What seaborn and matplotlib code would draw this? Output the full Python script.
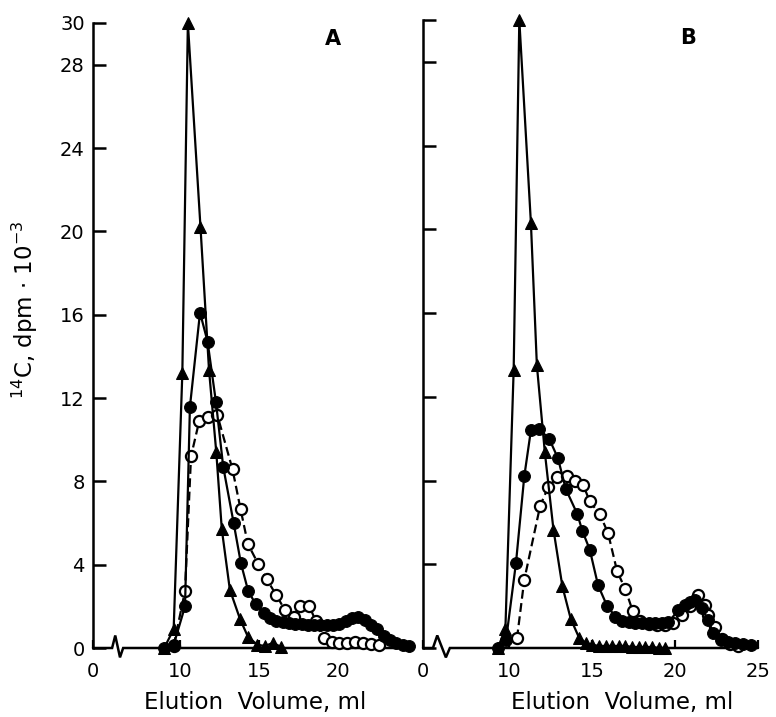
import numpy as np
import pandas as pd
import matplotlib
matplotlib.use("Agg")
import matplotlib.pyplot as plt
import seaborn as sns

# ---------------- data ----------------
# Panel A
a_tri_x = [9.0, 9.6, 10.15, 10.5, 11.3, 11.84, 12.3, 12.65, 13.16, 13.8, 14.3, 14.9, 15.4, 15.9, 16.4]
a_tri_y = [0.0, 0.9, 13.2, 30.0, 20.2, 13.35, 9.4, 5.7, 2.8, 1.4, 0.55, 0.15, 0.1, 0.25, 0.05]

a_fil_x = [9.0, 9.6, 10.32, 10.63, 11.27, 11.75, 12.28, 12.74, 13.4, 13.86, 14.32, 14.8, 15.3,
           15.7, 16.1, 16.5, 16.9, 17.3, 17.7, 18.1, 18.5, 18.9, 19.3, 19.7, 20.1, 20.5, 20.9,
           21.3, 21.7, 22.1, 22.5, 22.9, 23.3, 23.7, 24.1, 24.5]
a_fil_y = [0.0, 0.15, 2.0, 11.57, 16.1, 14.7, 11.8, 8.7, 6.0, 4.07, 2.74, 2.1, 1.7,
           1.45, 1.3, 1.25, 1.2, 1.15, 1.15, 1.1, 1.1, 1.1, 1.1, 1.1, 1.15, 1.3, 1.45,
           1.5, 1.35, 1.1, 0.9, 0.6, 0.4, 0.25, 0.15, 0.1]

a_opn_x = [9.6, 10.32, 10.7, 11.22, 11.8, 12.36, 13.33, 13.84, 14.3, 14.96, 15.5, 16.1, 16.65,
           17.2, 17.6, 18.2, 18.6, 19.1, 19.6, 20.1, 20.6, 21.1, 21.6, 22.1, 22.6]
a_opn_y = [0.1, 2.74, 9.2, 10.9, 11.1, 11.2, 8.57, 6.66, 5.0, 4.03, 3.3, 2.54, 1.82,
           1.5, 2.0, 2.0, 1.3, 0.46, 0.3, 0.25, 0.25, 0.3, 0.25, 0.2, 0.15]

# Panel B
b_tri_x = [9.3, 9.76, 10.26, 10.6, 11.3, 11.66, 12.14, 12.66, 13.2, 13.7, 14.2, 14.6, 15.0,
           15.4, 15.8, 16.2, 16.6, 17.0, 17.4, 17.8, 18.2, 18.6, 19.0, 19.4]
b_tri_y = [0.0, 0.9, 13.3, 30.0, 20.3, 13.5, 9.35, 5.66, 2.94, 1.4, 0.5, 0.25, 0.15,
           0.1, 0.1, 0.1, 0.1, 0.1, 0.05, 0.05, 0.05, 0.05, 0.0, 0.0]

b_fil_x = [9.3, 9.8, 10.4, 10.9, 11.3, 11.8, 12.4, 12.93, 13.4, 14.1, 14.4, 14.85, 15.35, 15.9,
           16.4, 16.8, 17.2, 17.6, 18.0, 18.4, 18.8, 19.2, 19.6, 20.2, 20.6, 20.9, 21.2,
           21.6, 22.0, 22.3, 22.75, 23.2, 23.6, 24.1, 24.6]
b_fil_y = [0.0, 0.38, 4.07, 8.2, 10.4, 10.45, 10.0, 9.07, 7.6, 6.4, 5.6, 4.7, 3.0, 2.0,
           1.5, 1.3, 1.25, 1.2, 1.2, 1.2, 1.2, 1.2, 1.25, 1.8, 2.05, 2.2, 2.3,
           1.9, 1.35, 0.7, 0.38, 0.28, 0.22, 0.17, 0.14]

b_opn_x = [10.46, 10.9, 11.86, 12.35, 12.9, 13.45, 13.93, 14.45, 14.85, 15.45, 15.95, 16.5,
           17.0, 17.45, 17.9, 18.4, 18.9, 19.4, 19.9, 20.4, 20.9, 21.4, 21.8, 22.0, 22.4,
           22.8, 23.3, 23.8]
b_opn_y = [0.46, 3.26, 6.8, 7.7, 8.15, 8.2, 8.0, 7.8, 7.0, 6.4, 5.5, 3.67,
           2.8, 1.75, 1.3, 1.15, 1.1, 1.1, 1.2, 1.6, 2.0, 2.54, 2.06, 1.58, 1.0,
           0.45, 0.2, 0.1]

y_ticks = [0, 4, 8, 12, 16, 20, 24, 28, 30]
x_ticks = [10, 15, 20, 25]
x_tick_labels = ["10", "15", "20", "25"]
origin_label = "0"
panel_letters = ["A", "B"]
y_label = "$^{14}$C, dpm $\\cdot$ 10$^{-3}$"
x_label = "Elution  Volume, ml"

# ---------------- style ----------------
sns.set_style("ticks")
plt.rcParams["font.family"] = ["DejaVu Sans"]
plt.rcParams["axes.linewidth"] = 1.8
for key in ["text.color", "axes.labelcolor", "xtick.color", "ytick.color",
            "axes.edgecolor"]:
    plt.rcParams[key] = "black"

W, H = 776, 717
fig = plt.figure(figsize=(W / 100, H / 100), dpi=100)

def px_rect(left, top, right, bottom):
    return [left / W, 1 - bottom / H, (right - left) / W, (bottom - top) / H]

axA = fig.add_axes(px_rect(93, 23, 412, 648))
axB = fig.add_axes(px_rect(423, 20, 758, 648))

# x-limits: left edge corresponds to the "0" of the broken axis
xlimA = (4.49, 24.7)
xlimB = (4.79, 25.0)

def draw_series(ax, xs, ys, kind):
    df = pd.DataFrame({"x": xs, "y": ys})
    common = dict(data=df, x="x", y="y", ax=ax, estimator=None, sort=False,
                  color="black", lw=1.6, clip_on=False, legend=False)
    if kind == "tri":
        sns.lineplot(**common, marker="^", markersize=8, markerfacecolor="black",
                     markeredgecolor="black", linestyle="-")
    elif kind == "fil":
        sns.lineplot(**common, marker="o", markersize=8.5, markerfacecolor="black",
                     markeredgecolor="black", linestyle="-")
    else:
        sns.lineplot(**common, marker="o", markersize=8, markerfacecolor="white",
                     markeredgecolor="black", markeredgewidth=1.6, linestyle=(0, (4, 2)))

for ax, xlim, tri, fil, opn, brk in [
    (axA, xlimA, (a_tri_x, a_tri_y), (a_fil_x, a_fil_y), (a_opn_x, a_opn_y),
     [5.7, 5.9, 6.2, 6.4]),
    (axB, xlimB, (b_tri_x, b_tri_y), (b_fil_x, b_fil_y), (b_opn_x, b_opn_y),
     [5.39, 5.65, 6.17, 6.41]),
]:
    draw_series(ax, *opn, "opn")
    draw_series(ax, *fil, "fil")
    draw_series(ax, *tri, "tri")

    ax.set_xlim(*xlim)
    ax.set_ylim(0, 30)
    sns.despine(ax=ax, top=True, right=True, bottom=True)
    ax.spines["left"].set_bounds(0, 30)

    # baseline with axis-break zigzag
    bx = [xlim[0], brk[0], brk[1], brk[2], brk[3], xlim[1]]
    by = [0, 0, 0.6, -0.45, 0, 0]
    ax.plot(bx, by, color="black", lw=1.8, clip_on=False, zorder=1,
            solid_joinstyle="miter")

    ticks = [xlim[0]] + [t for t in x_ticks if t <= xlim[1] + 1e-9]
    labels = [origin_label] + x_tick_labels[:len(ticks) - 1]
    ax.set_xticks(ticks)
    ax.set_xticklabels(labels)
    ax.tick_params(axis="x", direction="in", length=6, width=1.6, pad=10,
                   labelsize=14)
    ax.tick_params(axis="y", direction="in", length=9, width=1.8, pad=6,
                   labelsize=14)
    ax.set_yticks(y_ticks)
    ax.set_xlabel("")
    ax.set_ylabel("")

axA.set_yticklabels([str(t) for t in y_ticks])
axB.set_yticklabels([])

fig.text(333 / W, 1 - 39 / H, panel_letters[0], fontsize=15, fontweight="bold",
         ha="center", va="center")
fig.text(688 / W, 1 - 38 / H, panel_letters[1], fontsize=15, fontweight="bold",
         ha="center", va="center")

fig.text(25 / W, 1 - 310 / H, y_label, rotation=90, fontsize=16.5,
         ha="center", va="center")
fig.text(255 / W, 1 - 703 / H, x_label, fontsize=16.5, ha="center", va="center")
fig.text(622 / W, 1 - 703 / H, x_label, fontsize=16.5, ha="center", va="center")

fig.savefig("out.png", dpi=100)
